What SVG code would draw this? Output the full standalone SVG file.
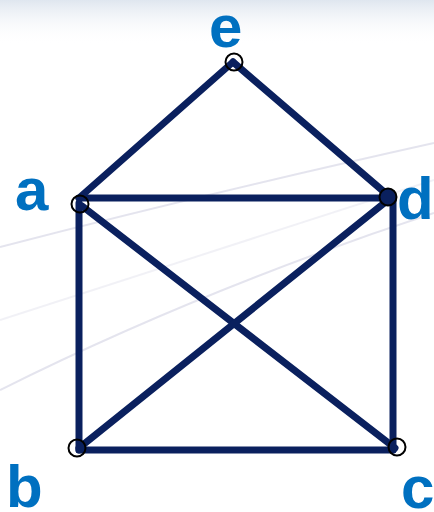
<svg xmlns="http://www.w3.org/2000/svg" width="434" height="512" viewBox="0 0 434 512">
<defs>
<linearGradient id="top" x1="0" y1="0" x2="0" y2="1">
<stop offset="0" stop-color="#dfe6ef"/>
<stop offset="1" stop-color="#ffffff" stop-opacity="0"/>
</linearGradient>
<style>
.edge{stroke:#0a205e;stroke-width:7;stroke-linecap:round;fill:none}
.node{fill:none;stroke:#000;stroke-width:2}
.lbl{font-family:"Liberation Sans",Arial,sans-serif;font-weight:bold;font-size:60px;fill:#0070c0}
.swoosh{fill:none;stroke:#d2d2e2;stroke-width:2;opacity:0.6}
</style>
</defs>
<rect width="434" height="512" fill="#ffffff"/>
<rect width="434" height="45" fill="url(#top)"/>
<path class="swoosh" d="M0,247 Q200,195 434,143"/>
<path class="swoosh" d="M0,390 Q200,290 434,213"/>
<path class="swoosh" d="M0,320 Q220,250 434,180" style="opacity:0.3"/>
<g id="edges">
<line class="edge" x1="79" y1="198" x2="233" y2="62"/>
<line class="edge" x1="233" y1="62" x2="390" y2="197"/>
<line class="edge" x1="79" y1="198" x2="390" y2="198"/>
<line class="edge" x1="79" y1="203" x2="79" y2="450"/>
<line class="edge" x1="393" y1="197" x2="393" y2="450"/>
<line class="edge" x1="79" y1="450" x2="393" y2="450"/>
<line class="edge" x1="82" y1="206" x2="395" y2="448"/>
<line class="edge" x1="79" y1="448" x2="388" y2="200"/>
</g>
<g id="node-e"><circle class="node" cx="234" cy="62" r="8.5"/><text class="lbl" x="209" y="47">e</text></g>
<g id="node-a"><circle class="node" cx="80" cy="204" r="8.5"/><text class="lbl" x="15" y="210">a</text></g>
<g id="node-d"><circle class="node" cx="388" cy="197" r="8.5" style="fill:#0a205e"/><text class="lbl" x="397" y="219">d</text></g>
<g id="node-b"><circle class="node" cx="77" cy="448" r="8.5"/><text class="lbl" x="6" y="507">b</text></g>
<g id="node-c"><circle class="node" cx="397" cy="447" r="8.5"/><text class="lbl" x="401" y="508">c</text></g>
</svg>
